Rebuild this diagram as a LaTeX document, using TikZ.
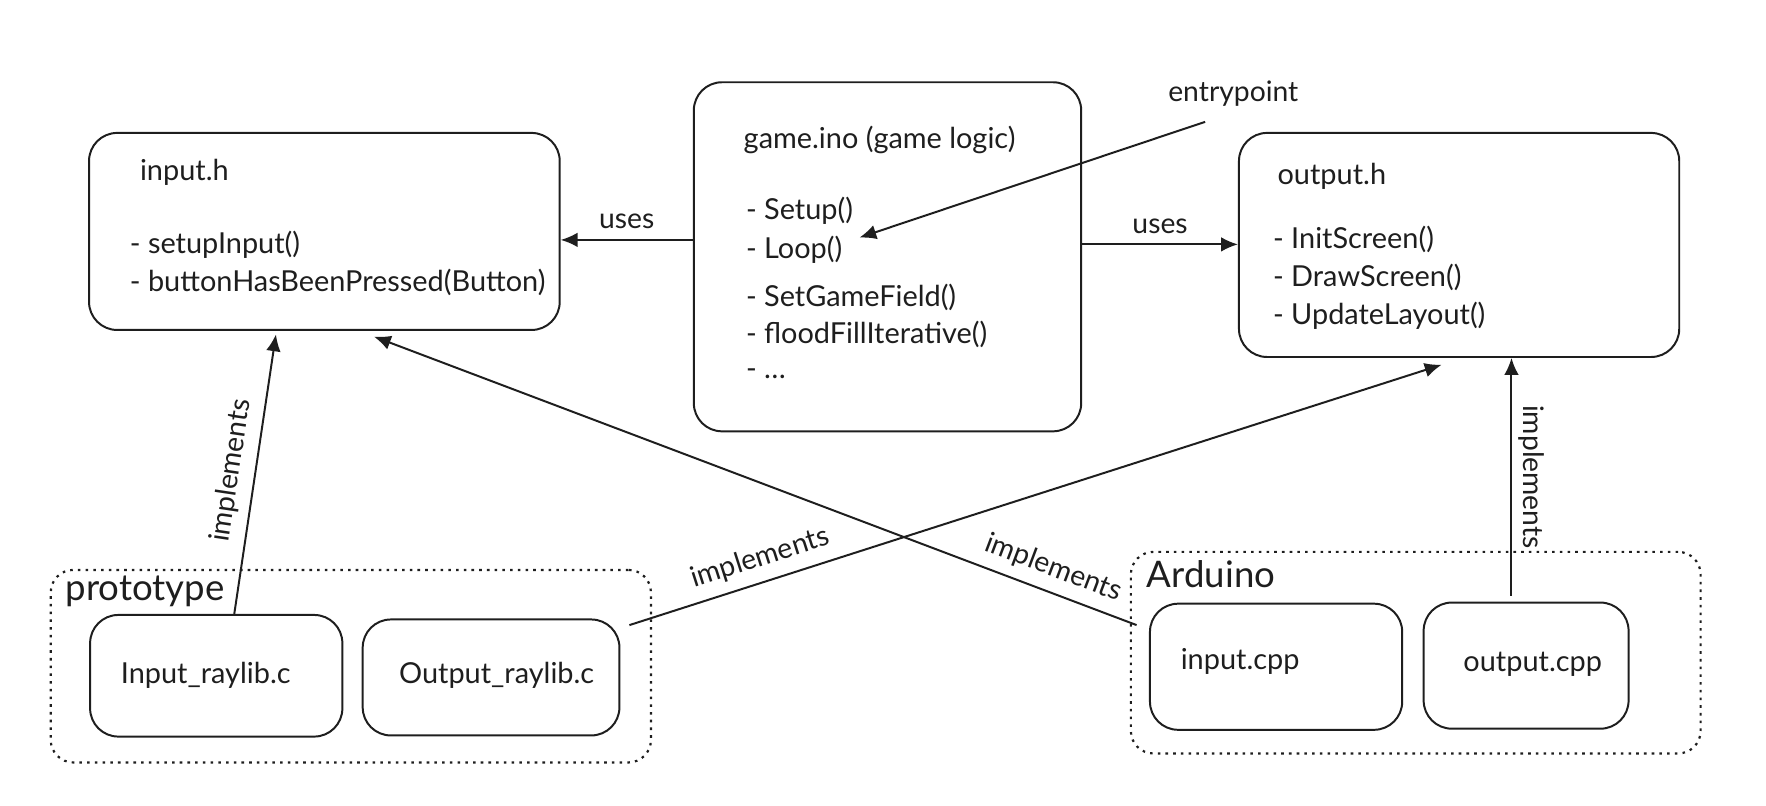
\documentclass[tikz,border=0pt]{standalone}
\usepackage{fontspec}
\setmainfont{Lato}
\usepackage{tikz}
\usetikzlibrary{arrows.meta,shapes,positioning}

\definecolor{ink}{HTML}{1E1E1E}
\tikzset{
  box/.style={draw=ink, line width=1pt, rounded corners=0.5cm, inner sep=0pt},
  group/.style={draw=ink, line width=1.1pt, dash pattern=on 1.3pt off 2.6pt, rounded corners=0.4cm, inner sep=0pt},
  txt/.style={anchor=west, inner sep=0pt, text=ink, font=\fontsize{14.6}{17}\selectfont},
  grp/.style={anchor=west, inner sep=0pt, text=ink, font=\fontsize{18.5}{22}\selectfont},
  arr/.style={draw=ink, line width=1pt, -{Latex[length=3mm,width=2.6mm]}},
  lbl/.style={inner sep=2pt, text=ink, font=\fontsize{14.3}{17}\selectfont}
}

\begin{document}
\begin{tikzpicture}[x=0.02cm, y=-0.02cm]
\useasboundingbox (0,0) rectangle (1568,715);

% the three headers
\node[box, minimum width=8.36cm, minimum height=3.5cm] (inputh) at (288,205.5) {};
\node[box, minimum width=6.88cm, minimum height=6.2cm] (gameino) at (788,228) {};
\node[box, minimum width=7.82cm, minimum height=3.98cm] (outputh) at (1295.5,217.5) {};

\node[txt] (inputhT) at (124,153) {input.h};
\node[txt] (inputh1) at (115,217) {- setupInput()};
\node[txt] (inputh2) at (115,251) {- buttonHasBeenPressed(Button)};

\node[txt] (gameT) at (660,124) {game.ino (game logic)};
\foreach \i/\y/\t in {1/187/Setup(), 2/222/Loop(), 3/264/SetGameField(), 4/297/floodFillIterative()}
  \node[txt] (game\i) at (662,\y) {- \t};
\node[txt] (game5) at (662,332) {- \ldots};

\node[txt] (outputhT) at (1134,157) {output.h};
\foreach \i/\y/\t in {1/213/InitScreen(), 2/246/DrawScreen(), 3/280/UpdateLayout()}
  \node[txt] (outputh\i) at (1130,\y) {- \t};

\node[lbl] (entry) at (1095,83) {entrypoint};

% prototype
\node[group, minimum width=10.66cm, minimum height=3.42cm] (proto) at (311.5,591.5) {};
\node[grp] (protoT) at (58,525) {prototype};
\node[box, minimum width=4.48cm, minimum height=2.16cm] (inr) at (192,600) {};
\node[box, minimum width=4.56cm, minimum height=2.06cm] (outr) at (436,601.5) {};
\node[txt] (inrT) at (107,600) {Input\_raylib.c};
\node[txt] (outrT) at (354,600) {Output\_raylib.c};

% arduino
\node[group, minimum width=10.12cm, minimum height=3.58cm] (ard) at (1257,579.5) {};
\node[grp] (ardT) at (1018,510) {Arduino};
\node[box, minimum width=4.48cm, minimum height=2.24cm] (incpp) at (1133,592) {};
\node[box, minimum width=3.64cm, minimum height=2.24cm] (outcpp) at (1355,591) {};
\node[txt] (incppT) at (1048,587) {input.cpp};
\node[txt] (outcppT) at (1299,590) {output.cpp};

% connectors
\coordinate (loopend) at (763,211);
\draw[arr] ([xshift=-0.5cm,yshift=-0.2cm]entry.south) -- (loopend);

\draw[arr] ([yshift=0.3cm]gameino.west) coordinate (u1) -- (u1 -| inputh.east)
  node[lbl, midway, above=3pt] (uses1) {uses};
\draw[arr] ([yshift=0.22cm]gameino.east) coordinate (u2) -- (u2 -| outputh.west)
  node[lbl, midway, above=3pt] (uses2) {uses};

\draw[arr] ([xshift=0.32cm]inr.north) -- ([xshift=-0.86cm,yshift=-0.06cm]inputh.south)
  node[lbl, pos=0.5, sloped, above=3pt] (imp1) {implements};
\draw[arr] ([xshift=-0.22cm,yshift=0.74cm]incpp.west) -- ([xshift=0.88cm,yshift=-0.1cm]inputh.south)
  node[lbl, pos=0.12, sloped, above=3pt] (imp2) {implements};
\draw[arr] ([xshift=0.16cm,yshift=0.93cm]outr.east) -- ([xshift=-0.31cm,yshift=-0.12cm]outputh.south)
  node[lbl, pos=0.17, sloped, above=3pt] (imp3) {implements};
\draw[arr] ([xshift=-0.26cm,yshift=0.1cm]outcpp.north) coordinate (o1) -- (o1 |- outputh.south)
  node[lbl, pos=0.5, rotate=-90, anchor=south, inner sep=3pt] (imp4) {implements};

\end{tikzpicture}
\end{document}
